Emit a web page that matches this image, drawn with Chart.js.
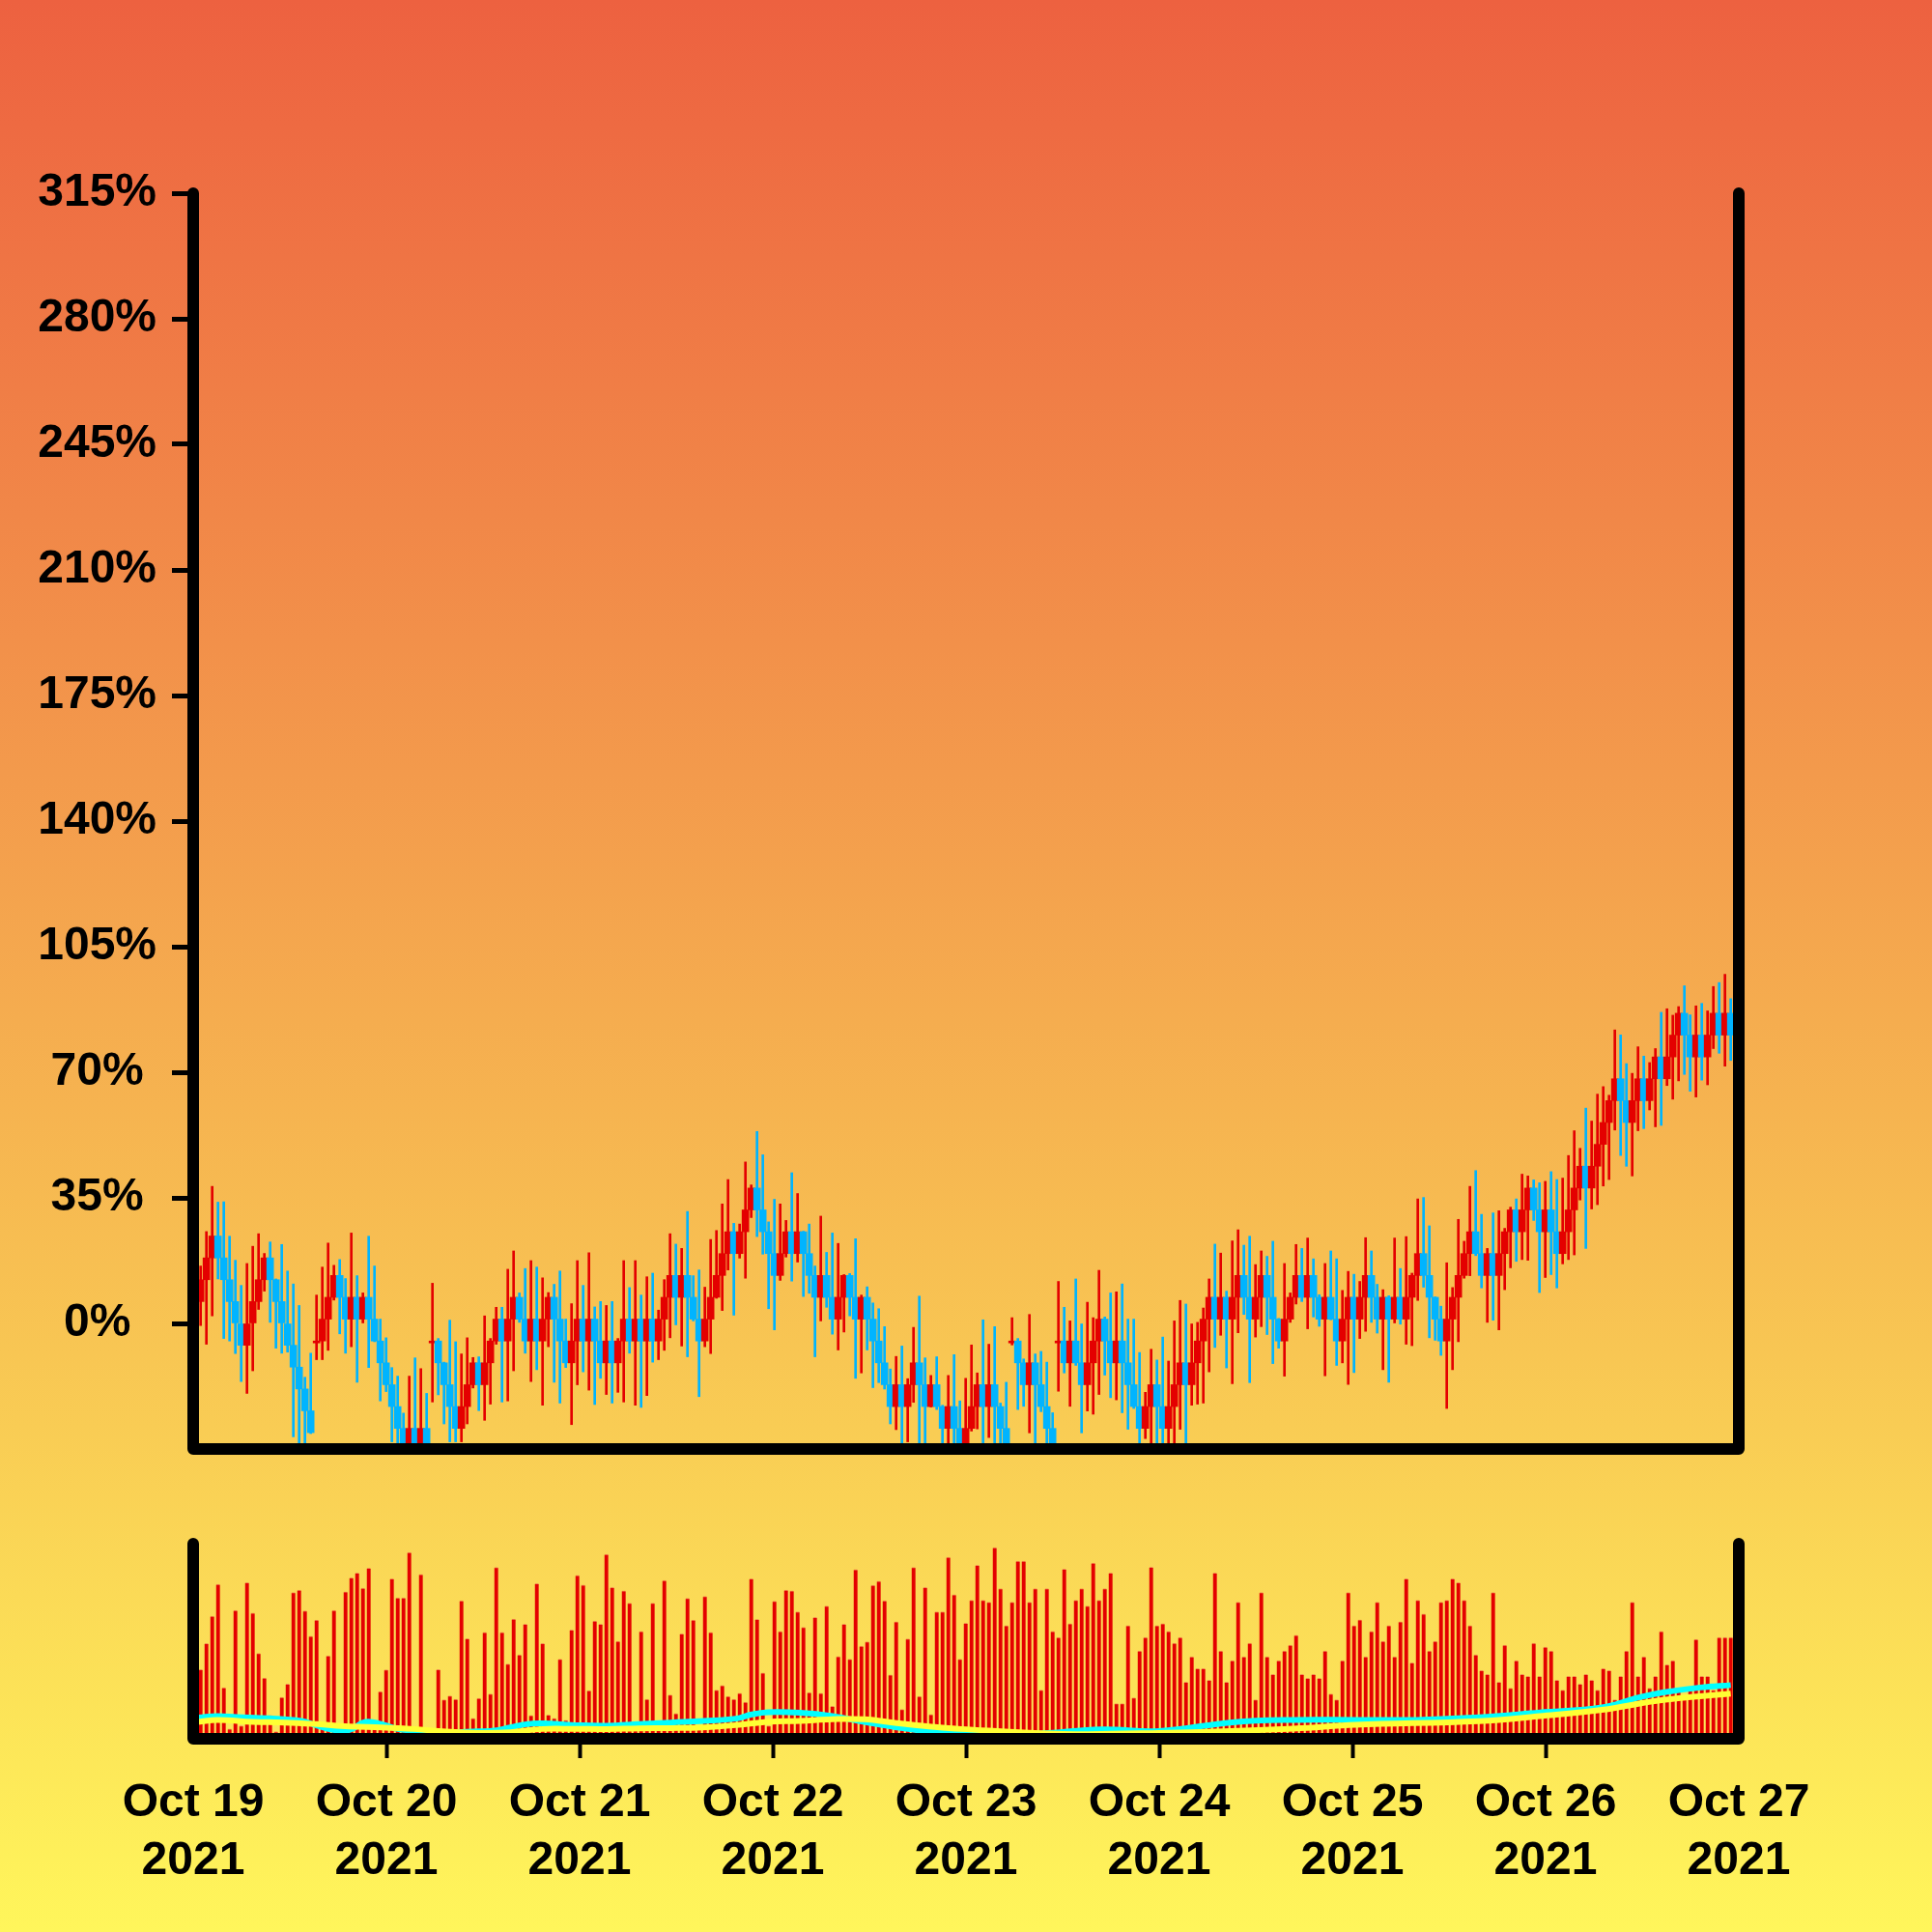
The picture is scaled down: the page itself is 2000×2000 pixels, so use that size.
<!DOCTYPE html>
<html>
<head>
<meta charset="utf-8">
<script src="https://cdn.jsdelivr.net/npm/chart.js@4.4.1/dist/chart.umd.min.js"></script>
<style>
  html, body { margin: 0; padding: 0; }
  body {
    width: 2000px; height: 2000px; position: relative; overflow: hidden;
    background: linear-gradient(to bottom, #ed6140 0%, #f39a4c 40%, #f8c653 70%, #fff65b 100%);
  }
  canvas { position: absolute; left: 0; }
  #price { top: 0; width: 2000px; height: 1560px; }
  #volume { top: 1560px; width: 2000px; height: 440px; }
</style>
</head>
<body>
<canvas id="price" width="2000" height="1560"></canvas>
<canvas id="volume" width="2000" height="440"></canvas>
<script>
const RED = '#e40000';
const BLUE = '#00b4ff';
const CYAN = '#00ffff';
const YELLOW = '#ffff33';

const dayLabels = ['Oct 19', 'Oct 20', 'Oct 21', 'Oct 22', 'Oct 23', 'Oct 24', 'Oct 25', 'Oct 26', 'Oct 27'];
const yearLabel = '2021';

// candle bodies, % change
const opens = [
  6.09, 12.18, 18.27, 24.36, 18.27, 12.18, 6.09, 0, -6.09, 0,
  6.09, 12.18, 18.27, 12.18, 6.09, 0, -6.09, -12.18, -18.27, -24.36,
  -4.90, -4.90, 1.19, 7.28, 13.37, 7.28, 1.19, 7.28, 1.19, 7.28,
  1.19, -4.90, -10.99, -17.08, -23.17, -29.26, -35.35, -29.26, -35.35, -29.26,
  -4.90, -4.90, -10.99, -17.08, -23.17, -29.26, -23.17, -17.08, -10.99, -17.08,
  -10.99, -4.90, 1.19, -4.90, 1.19, 7.28, 1.19, -4.90, 1.19, -4.90,
  1.19, 7.28, 1.19, -4.90, -10.99, -4.90, 1.19, -4.90, 1.19, -4.90,
  -10.99, -4.90, -10.99, -4.90, 1.19, -4.90, 1.19, -4.90, 1.19, -4.90,
  1.19, 7.28, 13.37, 7.28, 13.37, 7.28, 1.19, -4.90, 1.19, 7.28,
  13.37, 19.46, 25.55, 19.46, 25.55, 31.64, 37.73, 31.64, 25.55, 19.46,
  13.37, 19.46, 25.55, 19.46, 25.55, 19.46, 13.37, 7.28, 13.37, 7.28,
  1.19, 7.28, 13.37, 7.28, 1.19, 7.28, 1.19, -4.90, -10.99, -17.08,
  -23.17, -17.08, -23.17, -17.08, -10.99, -17.08, -23.17, -17.08, -23.17, -29.26,
  -23.17, -29.26, -35.35, -29.26, -23.17, -17.08, -23.17, -17.08, -23.17, -29.26,
  -4.90, -4.90, -10.99, -17.08, -10.99, -17.08, -23.17, -29.26, -4.90, -4.90,
  -10.99, -4.90, -10.99, -17.08, -10.99, -4.90, 1.19, -4.90, -10.99, -4.90,
  -10.99, -17.08, -23.17, -29.26, -23.17, -17.08, -23.17, -29.26, -23.17, -17.08,
  -10.99, -17.08, -10.99, -4.90, 1.19, 7.28, 1.19, 7.28, 1.19, 7.28,
  13.37, 7.28, 1.19, 7.28, 13.37, 7.28, 1.19, -4.90, 1.19, 7.28,
  13.37, 7.28, 13.37, 7.28, 1.19, 7.28, 1.19, -4.90, 1.19, 7.28,
  1.19, 7.28, 13.37, 7.28, 1.19, 7.28, 1.19, 7.28, 1.19, 7.28,
  13.37, 19.46, 13.37, 7.28, 1.19, -4.90, 1.19, 7.28, 13.37, 19.46,
  25.55, 19.46, 13.37, 19.46, 13.37, 19.46, 25.55, 31.64, 25.55, 31.64,
  37.73, 31.64, 25.55, 31.64, 25.55, 19.46, 25.55, 31.64, 37.73, 43.82,
  37.73, 43.82, 49.91, 56.00, 62.09, 68.18, 62.09, 56.00, 62.09, 68.18,
  62.09, 68.18, 74.27, 68.18, 74.27, 80.36, 86.45, 80.36, 74.27, 80.36,
  74.27, 80.36, 86.45, 80.36, 86.45
];
const closes = [
  12.18, 18.27, 24.36, 18.27, 12.18, 6.09, 0, -6.09, 0, 6.09,
  12.18, 18.27, 12.18, 6.09, 0, -6.09, -12.18, -18.27, -24.36, -30.45,
  -4.90, 1.19, 7.28, 13.37, 7.28, 1.19, 7.28, 1.19, 7.28, 1.19,
  -4.90, -10.99, -17.08, -23.17, -29.26, -35.35, -29.26, -35.35, -29.26, -35.35,
  -4.90, -10.99, -17.08, -23.17, -29.26, -23.17, -17.08, -10.99, -17.08, -10.99,
  -4.90, 1.19, -4.90, 1.19, 7.28, 1.19, -4.90, 1.19, -4.90, 1.19,
  7.28, 1.19, -4.90, -10.99, -4.90, 1.19, -4.90, 1.19, -4.90, -10.99,
  -4.90, -10.99, -4.90, 1.19, -4.90, 1.19, -4.90, 1.19, -4.90, 1.19,
  7.28, 13.37, 7.28, 13.37, 7.28, 1.19, -4.90, 1.19, 7.28, 13.37,
  19.46, 25.55, 19.46, 25.55, 31.64, 37.73, 31.64, 25.55, 19.46, 13.37,
  19.46, 25.55, 19.46, 25.55, 19.46, 13.37, 7.28, 13.37, 7.28, 1.19,
  7.28, 13.37, 7.28, 1.19, 7.28, 1.19, -4.90, -10.99, -17.08, -23.17,
  -17.08, -23.17, -17.08, -10.99, -17.08, -23.17, -17.08, -23.17, -29.26, -23.17,
  -29.26, -35.35, -29.26, -23.17, -17.08, -23.17, -17.08, -23.17, -29.26, -35.35,
  -4.90, -10.99, -17.08, -10.99, -17.08, -23.17, -29.26, -35.35, -4.90, -10.99,
  -4.90, -10.99, -17.08, -10.99, -4.90, 1.19, -4.90, -10.99, -4.90, -10.99,
  -17.08, -23.17, -29.26, -23.17, -17.08, -23.17, -29.26, -23.17, -17.08, -10.99,
  -17.08, -10.99, -4.90, 1.19, 7.28, 1.19, 7.28, 1.19, 7.28, 13.37,
  7.28, 1.19, 7.28, 13.37, 7.28, 1.19, -4.90, 1.19, 7.28, 13.37,
  7.28, 13.37, 7.28, 1.19, 7.28, 1.19, -4.90, 1.19, 7.28, 1.19,
  7.28, 13.37, 7.28, 1.19, 7.28, 1.19, 7.28, 1.19, 7.28, 13.37,
  19.46, 13.37, 7.28, 1.19, -4.90, 1.19, 7.28, 13.37, 19.46, 25.55,
  19.46, 13.37, 19.46, 13.37, 19.46, 25.55, 31.64, 25.55, 31.64, 37.73,
  31.64, 25.55, 31.64, 25.55, 19.46, 25.55, 31.64, 37.73, 43.82, 37.73,
  43.82, 49.91, 56.00, 62.09, 68.18, 62.09, 56.00, 62.09, 68.18, 62.09,
  68.18, 74.27, 68.18, 74.27, 80.36, 86.45, 80.36, 74.27, 80.36, 74.27,
  80.36, 86.45, 80.36, 86.45, 80.36
];
const highs = [
  16.0, 25.6, 38.2, 33.8, 33.9, 24.3, 17.6, 10.6, 16.7, 21.5,
  25.0, 19.5, 22.7, 12.4, 22.0, 14.6, 11.0, 5.0, -15.0, -8.3,
  7.9, 15.7, 22.4, 16.2, 17.8, 12.5, 25.2, 13.3, 8.5, 24.3,
  16.0, 1.2, -4.0, -12.3, -14.7, -25.0, -14.7, -9.6, -12.6, -19.5,
  11.2, -4.2, -10.8, 0.9, -5.1, -8.5, -4.0, -9.5, -9.3, 2.1,
  -4.2, 4.5, 4.5, 15.1, 20.2, 8.5, 15.3, 17.5, 15.7, 12.7,
  8.6, 10.9, 14.6, 1.2, 5.5, 17.5, 10.6, 19.7, 4.6, 6.1,
  5.0, 6.1, -4.2, 17.5, 10.0, 17.5, 7.9, 13.0, 14.0, 3.7,
  12.2, 25.0, 22.1, 20.9, 31.2, 13.3, 14.9, 10.1, 23.4, 25.9,
  33.3, 40.1, 27.9, 27.7, 45.0, 38.6, 53.5, 47.0, 28.3, 34.6,
  33.3, 28.7, 42.0, 36.2, 25.7, 27.7, 16.0, 29.9, 19.8, 25.2,
  22.3, 13.6, 13.9, 23.6, 7.9, 10.2, 5.7, 4.1, -0.9, -12.7,
  -9.2, -6.3, -15.4, -1.1, 7.6, -9.6, -14.5, -9.3, -22.8, -14.5,
  -8.7, -21.6, -15.3, -6.0, -13.8, 1.0, -5.8, -0.9, -22.2, -16.4,
  1.6, -4.2, -9.9, 2.5, -8.5, -7.8, -10.8, -24.9, 11.7, 4.5,
  0.7, 12.4, 0.0, 5.9, 1.6, 14.8, 1.8, 8.5, 8.8, 11.0,
  1.2, 1.2, -8.1, -19.2, -7.2, -10.2, -3.8, -10.5, 0.7, 6.4,
  5.4, 0.0, 0.3, 4.3, 12.4, 22.1, 19.6, 9.0, 23.0, 26.1,
  21.8, 24.3, 16.4, 20.2, 18.7, 22.9, 1.4, 16.7, 8.5, 22.0,
  20.9, 23.8, 18.0, 8.0, 16.7, 20.2, 18.0, 9.2, 14.5, 13.7,
  11.7, 23.9, 20.2, 10.9, 9.4, 7.7, 23.8, 15.3, 24.2, 14.0,
  34.7, 35.1, 27.2, 7.4, 4.8, 16.9, 10.0, 29.0, 22.9, 38.2,
  42.6, 30.4, 20.9, 30.8, 31.4, 26.5, 32.4, 34.7, 41.6, 41.1,
  40.0, 39.2, 39.6, 42.3, 40.1, 40.5, 46.8, 53.7, 48.8, 60.0,
  56.4, 63.9, 66.0, 63.6, 81.8, 80.4, 72.4, 69.7, 77.1, 74.5,
  72.7, 76.6, 86.7, 87.7, 85.9, 88.3, 94.1, 86.0, 88.5, 89.2,
  87.1, 93.9, 95.0, 97.3, 90.5
];
const lows = [
  -0.6, -5.8, 2.1, 12.4, -4.2, -4.9, -8.4, -16.2, -19.5, -13.2,
  3.9, 9.0, 0.3, -6.9, -8.3, -8.0, -31.6, -36, -36, -30.7,
  -10.1, -10.1, -7.5, 6.5, -2.9, -8.3, -6.5, -16.4, 0.0, -12.3,
  -5.1, -21.6, -19.0, -33.0, -36, -36, -36, -36, -36, -36,
  -21.9, -19.9, -28.0, -33.0, -33.0, -33.0, -28.0, -18.0, -24.3, -27.0,
  -22.5, -5.8, -21.9, -21.6, -13.2, 0.3, -8.3, -16.2, -12.9, -22.8,
  -6.5, -16.4, -22.2, -12.3, -28.2, -17.1, -13.5, -18.6, -22.6, -15.3,
  -19.8, -22.2, -19.2, -21.9, -8.3, -22.8, -23.4, -20.1, -10.8, -10.1,
  -7.5, -4.0, -0.4, -6.3, -9.3, 0.7, -20.4, -6.5, -8.4, 7.0,
  3.6, 14.9, 2.3, 18.2, 12.6, 29.5, 24.2, 19.3, 4.1, -1.8,
  12.0, 18.5, 11.8, 17.1, 7.5, 8.4, -9.3, 0.7, 4.5, -3.0,
  -7.4, -2.4, 2.1, -15.3, -13.8, -7.4, -17.9, -16.5, -18.3, -28.0,
  -29.6, -33.4, -33.0, -22.0, -33.4, -33.4, -23.3, -24.0, -33.4, -33.4,
  -33.4, -36, -36, -30.0, -29.4, -33.4, -31.8, -33.4, -33.4, -36,
  -6.0, -24.0, -23.1, -30.5, -33.4, -24.6, -33.4, -36, -18.9, -13.8,
  -23.1, -11.7, -30.5, -24.4, -25.3, -19.8, -14.4, -20.7, -21.3, -24.9,
  -29.5, -23.7, -33.4, -32.1, -33.4, -33.4, -33.4, -33.4, -33.4, -29.5,
  -33.4, -22.8, -22.5, -22.2, -13.5, -6.7, -3.3, -12.4, -16.8, -2.6,
  2.5, -16.5, -3.8, -0.9, -3.1, -11.2, -6.9, -14.7, 0.3, 5.4,
  6.1, -1.5, 1.8, -0.8, -14.6, 1.0, -11.7, -11.0, -17.0, -13.7,
  -4.2, -2.2, 0.3, -2.7, -12.9, -16.4, 0.0, -0.2, -5.8, -6.2,
  6.4, 10.1, -4.0, -4.7, -8.9, -23.7, -12.9, -5.1, 12.6, 13.3,
  18.9, 9.9, 0.3, 0.9, -1.8, 9.4, 15.5, 17.3, 17.8, 17.6,
  28.7, 8.6, 12.8, 13.6, 9.9, 16.6, 17.8, 19.1, 34.4, 20.9,
  31.9, 33.1, 38.3, 40.1, 53.9, 46.8, 43.8, 41.1, 53.7, 54.3,
  59.5, 54.8, 55.2, 66.3, 62.5, 67.6, 69.4, 64.7, 63.1, 67.8,
  66.5, 76.6, 75.3, 71.7, 73.3
];
const volumes = [
  35.5, 48.8, 62.8, 79.2, 26.2, 5.0, 65.8, 6.7, 80.0, 64.5,
  43.8, 31.2, 12.0, 3.7, 21.3, 28.0, 75.0, 76.2, 65.5, 52.5,
  60.8, 7.8, 42.5, 65.8, 7.5, 75.3, 82.5, 85.0, 77.2, 87.5,
  9.0, 24.2, 35.3, 82.0, 72.2, 72.2, 95.5, 5.0, 84.2, 4.0,
  4.0, 35.5, 20.0, 22.0, 20.3, 70.8, 51.3, 10.5, 20.8, 54.5,
  23.0, 87.8, 54.5, 38.3, 61.3, 43.0, 58.8, 12.0, 79.5, 48.8,
  12.2, 10.5, 40.8, 9.5, 55.8, 83.7, 78.8, 24.7, 60.3, 58.7,
  94.5, 77.5, 50.0, 75.8, 69.5, 8.3, 55.0, 20.3, 69.5, 7.5,
  81.2, 22.5, 13.0, 53.8, 72.0, 60.8, 6.7, 73.0, 54.5, 25.0,
  27.3, 21.7, 20.3, 23.3, 18.8, 82.0, 61.2, 33.8, 6.7, 70.5,
  55.0, 76.2, 75.8, 65.0, 57.2, 23.7, 62.2, 23.3, 68.0, 16.7,
  42.2, 58.8, 40.8, 86.7, 47.5, 49.7, 78.7, 80.8, 70.8, 32.8,
  60.0, 15.0, 51.2, 87.8, 21.7, 77.5, 12.5, 65.0, 65.0, 93.0,
  73.8, 40.8, 59.2, 71, 89, 71, 70, 98, 77, 58,
  70, 91, 91, 70, 77, 25, 77, 55, 52, 87,
  59, 71, 77, 68, 90, 71, 77, 85, 18, 18,
  58, 21, 45, 52, 88, 58, 59, 55, 49, 52,
  29, 42, 36, 36, 30, 85, 45, 29, 40, 70,
  42, 49, 20, 75, 42, 33, 40, 45, 48, 53,
  33, 31, 33, 31, 45, 23, 20, 40, 75, 58,
  61, 42, 55, 70, 50, 58, 42, 60, 82, 39,
  71, 64, 45, 50, 70, 71, 82, 80, 71, 58,
  43, 35, 33, 75, 29, 48, 26, 40, 33, 32,
  49, 32, 47, 45, 30, 25, 32, 32, 28, 33,
  30, 25, 36, 35, 20, 32, 45, 70, 32, 42,
  26, 32, 55, 38, 40, 26, 20, 25, 51, 32,
  32, 25, 52, 52, 52
];

// moving-average lines in the volume pane, read at sample hours
const cyanHours = [0.7, 3.0, 5.4, 9.4, 13.4, 15.4, 17.4, 19.4, 21.4, 23.4, 25.4, 27.4, 31.4, 35.4, 37.4, 39.4, 41.4, 43.4, 47.4, 51.4, 55.4, 59.4, 63.4, 67.4, 69.4, 71.4, 75.4, 79.4, 83.4, 87.4, 91.4, 95.4, 104.4, 112.8, 120, 129.1, 136.7, 144.4, 152, 159.7, 167.3, 175, 179.6, 182.6, 187.2, 191];
const cyanValues = [12.2, 15.7, 13.5, 10.7, 4.8, -5.6, -15.4, -15.4, 2.6, -2.4, -13.2, -16.9, -20.4, -18.3, -16.9, -9.5, -2.4, -0.8, -4.6, -6.1, -2.4, 1.3, 4.8, 10.0, 19.4, 24.4, 23.1, 15.7, 2.6, -9.5, -18.3, -22, -24, -14, -17.6, 1.8, 7.2, 7.2, 7.2, 12.8, 23.7, 35, 57.2, 68.3, 79.4, 84.8];
const yellowHours = [0.7, 3.0, 7.4, 11.4, 15.4, 19.4, 23.4, 27.4, 31.4, 35.4, 39.4, 43.4, 47.4, 51.4, 55.4, 59.4, 63.4, 67.4, 71.4, 75.4, 79.4, 83.4, 87.4, 91.4, 95.4, 108, 120, 136.7, 144.4, 159.7, 167.3, 175, 182.6, 191];
const yellowValues = [2.6, 7.0, 2.6, 1.3, -2.4, -7.4, -9.5, -13.2, -19.1, -22, -20.4, -13.2, -13, -13.2, -11.7, -11.1, -9.5, -4.6, 2.6, 4.8, 8.5, 8.5, 0, -7.4, -13.2, -24, -22, -12.2, -3.9, 4.4, 15.5, 29.4, 51.6, 65.5];

// one candle every 43.2 minutes, in hours since Oct 19 00:00
const hours = closes.map((_, i) => 0.92 + 0.72 * i);

const candleColor = (ctx) => closes[ctx.dataIndex] >= opens[ctx.dataIndex] ? RED : BLUE;
const FONT = { family: '"Liberation Sans", Arial, sans-serif', size: 48, weight: 'bold', lineHeight: 1.25 };

const frame = {
  id: 'frame',
  afterDatasetsDraw(chart) {
    const { ctx, chartArea: a } = chart;
    ctx.save();
    ctx.strokeStyle = '#000';
    ctx.lineWidth = 12;
    ctx.lineCap = 'round';
    ctx.lineJoin = 'round';
    ctx.beginPath();
    ctx.moveTo(a.left, a.top);
    ctx.lineTo(a.left, a.bottom);
    ctx.lineTo(a.right, a.bottom);
    ctx.lineTo(a.right, a.top);
    ctx.stroke();
    ctx.restore();
  }
};

new Chart(document.getElementById('price'), {
  type: 'bar',
  data: {
    datasets: [
      {
        label: 'wick',
        data: hours.map((h, i) => ({ x: h, y: [lows[i], highs[i]] })),
        backgroundColor: candleColor,
        barThickness: 2,
        grouped: false,
        clip: 0,
        order: 2
      },
      {
        label: 'body',
        data: hours.map((h, i) => ({ x: h, y: [opens[i], closes[i]] })),
        backgroundColor: candleColor,
        barThickness: 7,
        minBarLength: 2,
        grouped: false,
        clip: 0,
        order: 1
      }
    ]
  },
  options: {
    responsive: false,
    devicePixelRatio: 1,
    animation: false,
    layout: { padding: { top: 200, right: 200, bottom: 60, left: 0 } },
    plugins: { legend: { display: false }, tooltip: { enabled: false } },
    scales: {
      x: { type: 'linear', min: 0, max: 192, offset: false, display: false, grid: { offset: false } },
      y: {
        min: -35, max: 315,
        afterBuildTicks: (s) => { s.ticks = s.ticks.filter(t => t.value >= 0); },
        afterFit: (s) => { s.width = 200; },
        ticks: { stepSize: 35, color: '#000', font: FONT, padding: 16, crossAlign: 'center', callback: (v) => v + '%' },
        grid: { drawOnChartArea: false, drawTicks: true, tickLength: 22, tickWidth: 5, tickColor: '#000' },
        border: { display: false }
      }
    }
  },
  plugins: [frame]
});

new Chart(document.getElementById('volume'), {
  type: 'bar',
  data: {
    datasets: [
      {
        type: 'line',
        label: 'MA slow',
        data: yellowHours.map((h, i) => ({ x: h, y: yellowValues[i] })),
        yAxisID: 'yMa',
        borderColor: YELLOW,
        borderWidth: 6,
        pointRadius: 0,
        tension: 0.4,
        order: 1
      },
      {
        type: 'line',
        label: 'MA fast',
        data: cyanHours.map((h, i) => ({ x: h, y: cyanValues[i] })),
        yAxisID: 'yMa',
        borderColor: CYAN,
        borderWidth: 6,
        pointRadius: 0,
        tension: 0.4,
        order: 2
      },
      {
        label: 'volume',
        data: hours.map((h, i) => ({ x: h, y: volumes[i] })),
        yAxisID: 'yVol',
        backgroundColor: RED,
        borderColor: '#f29050',
        borderWidth: { top: 1, right: 0, bottom: 0, left: 0 },
        borderSkipped: false,
        barThickness: 4,
        grouped: false,
        order: 3
      }
    ]
  },
  options: {
    responsive: false,
    devicePixelRatio: 1,
    animation: false,
    layout: { padding: { top: 38, right: 200, bottom: 0, left: 200 } },
    plugins: { legend: { display: false }, tooltip: { enabled: false } },
    scales: {
      x: {
        type: 'linear', min: 0, max: 192, offset: false,
        afterFit: (s) => { s.height = 200; },
        ticks: {
          stepSize: 24, autoSkip: false, maxRotation: 0, color: '#000', font: FONT, padding: 17,
          callback: (v) => [dayLabels[Math.round(v / 24)], yearLabel]
        },
        grid: {
          offset: false, drawOnChartArea: false, drawTicks: true, tickLength: 20, tickWidth: 4,
          tickColor: (c) => (c.tick && (c.tick.value === 0 || c.tick.value === 192)) ? 'rgba(0,0,0,0)' : '#000'
        },
        border: { display: false }
      },
      yVol: { min: 0, max: 100, display: false },
      yMa: { min: -35, max: 400, display: false }
    }
  },
  plugins: [frame]
});
</script>
</body>
</html>
